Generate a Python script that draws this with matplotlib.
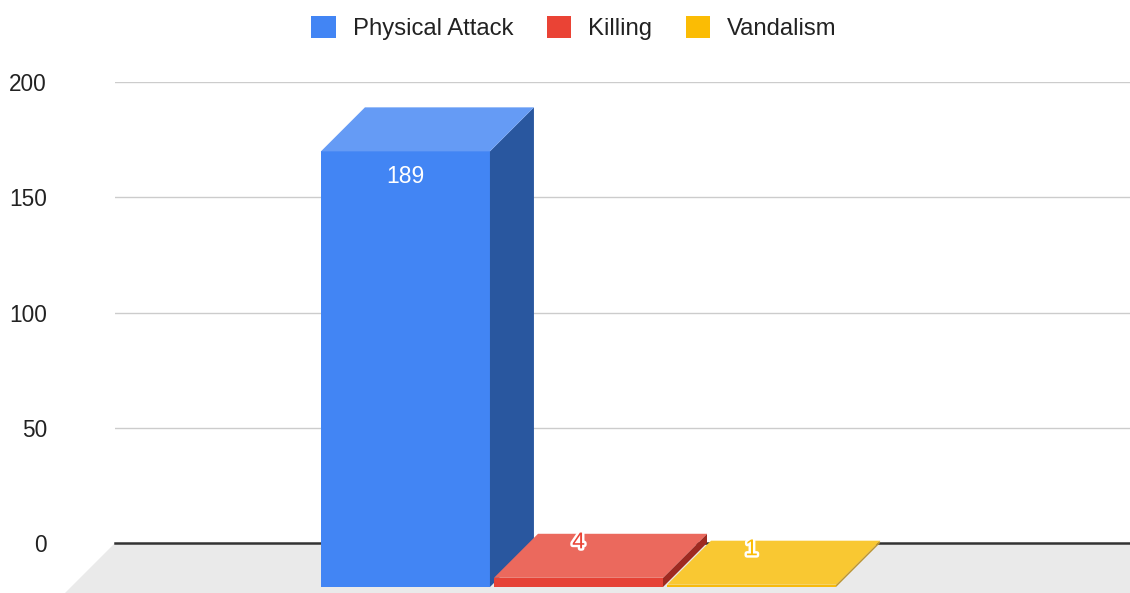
import matplotlib
matplotlib.use("Agg")
import matplotlib.pyplot as plt
from matplotlib.patches import Polygon, Patch
import matplotlib.patheffects as pe

plt.rcParams['font.family'] = ['Liberation Sans', 'DejaVu Sans']

# ---- data ----
series = ["Physical Attack", "Killing", "Vandalism"]
values = [189, 4, 1]
yticks = [0, 50, 100, 150, 200]

# ---- style ----
front_colors = ["#4285F4", "#E64236", "#F7BA0C"]
top_colors = ["#659BF5", "#EB695D", "#F9C832"]
side_colors = ["#29579F", "#9E2A21", "#BB9530"]
legend_colors = ["#4285F4", "#EA4335", "#FBBC04"]

W, H, DPI = 1130, 593, 100
fig = plt.figure(figsize=(W / DPI, H / DPI), dpi=DPI)
ax_l, ax_r, ax_b, ax_t = 115, 1130, 543, 82
ax = fig.add_axes([ax_l / W, (H - ax_b) / H, (ax_r - ax_l) / W, (ax_b - ax_t) / H])
ax.set_xlim(-0.5, 0.5)
ax.set_ylim(0, 200)
for s in ax.spines.values():
    s.set_visible(False)
ax.set_xticks([])
ax.set_yticks(yticks)
ax.set_yticklabels([str(t) for t in yticks])
ax.tick_params(axis='y', length=0, pad=68 * 72 / DPI, labelsize=16.3, labelcolor="#222222")

px_x = 1.0 / (ax_r - ax_l)        # category units per pixel
px_y = 200.0 / (ax_b - ax_t)      # value units per pixel
dx, dy = 44 * px_x, 44 * px_y     # bar depth
fdx, fdy = 50 * px_x, 50 * px_y   # floor depth

# floor
ax.add_patch(Polygon([(-0.5, 0), (0.5 + 0.1, 0), (0.5 + 0.1 - fdx, -fdy), (-0.5 - fdx, -fdy)],
                     closed=True, facecolor="#EAEAEA", edgecolor="none", clip_on=False, zorder=0))
# gridlines
for t in yticks[1:]:
    ax.axhline(t, color="#CCCCCC", lw=1, zorder=1)
ax.axhline(0, color="#333333", lw=1.8, zorder=1, clip_on=False)

# bars
bw, gap = 0.1665, 0.004
n = len(values)
start = -(n * bw + (n - 1) * gap) / 2
for i, v in enumerate(values):
    x0 = start + i * (bw + gap)
    x1 = x0 + bw
    front = [(x0 - dx, -dy), (x1 - dx, -dy), (x1 - dx, v - dy), (x0 - dx, v - dy)]
    side = [(x1 - dx, -dy), (x1, 0), (x1, v), (x1 - dx, v - dy)]
    top = [(x0 - dx, v - dy), (x1 - dx, v - dy), (x1, v), (x0, v)]
    ax.add_patch(Polygon(front, closed=True, facecolor=front_colors[i], edgecolor="none",
                         clip_on=False, zorder=3 + i))
    ax.add_patch(Polygon(side, closed=True, facecolor=side_colors[i], edgecolor="none",
                         clip_on=False, zorder=3 + i))
    ax.add_patch(Polygon(top, closed=True, facecolor=top_colors[i], edgecolor="none",
                         clip_on=False, zorder=3 + i))
    cx = (x0 + x1) / 2 - dx
    if (v * 1.0) / px_y > 50:
        ax.text(cx, v - dy - 10.8, str(v), ha="center", va="center", fontsize=16.5,
                color="white", zorder=10, clip_on=False)
    else:
        ax.text(cx, v - dy + 15.6, str(v), ha="center", va="center", fontsize=16.5,
                color=legend_colors[i], zorder=10, clip_on=False,
                path_effects=[pe.Stroke(linewidth=3.5, foreground="white"), pe.Normal()])

# legend
handles = [Patch(facecolor=c, edgecolor="none") for c in legend_colors]
leg = fig.legend(handles, series, loc="center", bbox_to_anchor=(574 / W, 1 - 28 / H), ncol=3,
                 frameon=False, fontsize=17.2, handlelength=1.02, handleheight=1.02,
                 handletextpad=0.72, columnspacing=1.4, borderpad=0)
for t in leg.get_texts():
    t.set_color("#222222")

fig.savefig("out.png", dpi=DPI)
